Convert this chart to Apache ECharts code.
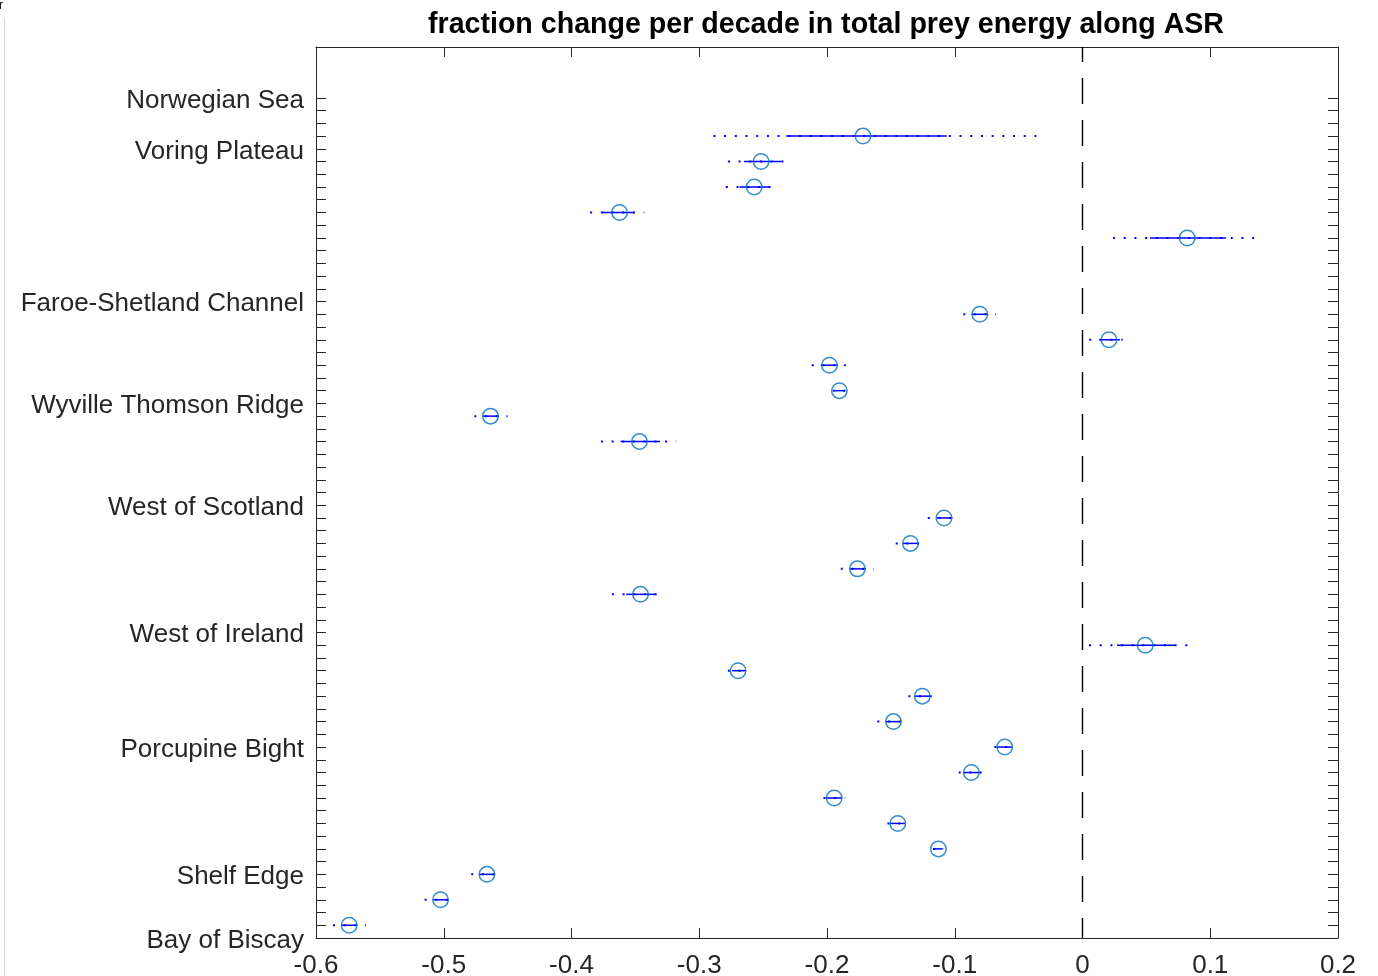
<!DOCTYPE html>
<html>
<head>
<meta charset="utf-8">
<script src="https://cdn.jsdelivr.net/npm/echarts@6/dist/echarts.min.js"></script>
<style>
  html, body { margin: 0; padding: 0; background: #fff; }
  #chart { width: 1378px; height: 976px; }
</style>
</head>
<body>
<div id="chart"></div>
<script>
// Site rows along the shelf edge, numbered from the bottom (south) upward
const rowIndex = [1, 2, 3, 4, 5, 6, 7, 8, 9, 10, 11, 12, 14, 15, 16, 17, 20, 21, 22, 23, 24, 25, 28, 29, 30, 31, 32];

// Fractional change per decade in total prey energy at each row
const trend = [
  -0.5740, -0.5025, -0.4662, -0.1128, -0.1446, -0.1944, -0.0870, -0.0609, -0.1480, -0.1254,
  -0.2696, 0.0491, -0.3460, -0.1762, -0.1347, -0.1084, -0.3468, -0.4634, -0.1903, -0.1981,
  0.0207, -0.0804, 0.0820, -0.3624, -0.2570, -0.2516, -0.1718
];

// Inner (solid) interval bounds
const innerLow = [
  -0.5802, -0.5082, -0.4722, -0.1158, -0.1506, -0.2007, -0.0935, -0.0669, -0.1540, -0.1311,
  -0.2743, 0.0270, -0.3572, -0.1819, -0.1407, -0.1141, -0.3617, -0.4693, -0.1941, -0.2049,
  0.0129, -0.0867, 0.0528, -0.3762, -0.2685, -0.2649, -0.2320
];
const innerHigh = [
  -0.5677, -0.4965, -0.4605, -0.1095, -0.1389, -0.1882, -0.0794, -0.0552, -0.1420, -0.1193,
  -0.2641, 0.0724, -0.3345, -0.1696, -0.1285, -0.1019, -0.3306, -0.4568, -0.1862, -0.1916,
  0.0293, -0.0742, 0.1123, -0.3509, -0.2451, -0.2359, -0.1063
];

// Outer (dotted) interval bounds
const outerLow = [
  -0.5867, -0.5150, -0.4785, -0.1170, -0.1527, -0.2028, -0.0969, -0.0690, -0.1606, -0.1363,
  -0.2776, 0.0051, -0.3684, -0.1892, -0.1462, -0.1211, -0.3770, -0.4761, -0.1955, -0.2119,
  0.0053, -0.0933, 0.0239, -0.3854, -0.2792, -0.2776, -0.2889
];
const outerHigh = [
  -0.5609, -0.4902, -0.4542, -0.1084, -0.1360, -0.1858, -0.0789, -0.0523, -0.1355, -0.1146,
  -0.2610, 0.0888, -0.3265, -0.1637, -0.1232, -0.0959, -0.3181, -0.4501, -0.1845, -0.1853,
  0.0315, -0.0677, 0.1404, -0.3431, -0.2372, -0.2275, -0.0354
];

// Region names and the row position each name sits at
const regionNames = ['Bay of Biscay', 'Shelf Edge', 'Porcupine Bight', 'West of Ireland', 'West of Scotland',
  'Wyville Thomson Ridge', 'Faroe-Shetland Channel', 'Voring Plateau', 'Norwegian Sea'];
const regionPos = [0.5, 3, 8, 12.5, 17.5, 21.5, 25.5, 31.5, 33.5];

// x-axis range and tick step
const xMin = -0.6, xMax = 0.2, xStep = 0.1;
// y-axis range and minor tick rows
const yMin = 0.5, yMax = 35.5;
const yTickFirst = 1, yTickLast = 33.5, yTickStep = 0.5;

const yTicks = [];
for (let v = yTickFirst; v <= yTickLast + 1e-9; v += yTickStep) yTicks.push(v);

const FONT = '"Liberation Sans", Arial, Helvetica, sans-serif';
const AXIS_COLOR = '#262626';

const chart = echarts.init(document.getElementById('chart'), null, { renderer: 'canvas' });

const xAxisBase = {
  type: 'value', min: xMin, max: xMax, interval: xStep,
  splitLine: { show: false },
  axisLine: { show: true, onZero: false, lineStyle: { color: AXIS_COLOR, width: 1 } },
  axisTick: { show: true, inside: true, length: 10, lineStyle: { color: AXIS_COLOR, width: 1 } }
};

const yAxisBase = {
  type: 'value', min: yMin, max: yMax,
  splitLine: { show: false },
  axisLine: { show: true, onZero: false, lineStyle: { color: AXIS_COLOR, width: 1 } },
  axisTick: { show: true, inside: true, length: 10, customValues: yTicks, lineStyle: { color: AXIS_COLOR, width: 1 } }
};

chart.setOption({
  animation: false,
  backgroundColor: '#ffffff',
  title: {
    text: 'fraction change per decade in total prey energy along ASR',
    left: 821, top: 6, textAlign: 'center',
    textStyle: { fontFamily: FONT, fontSize: 28.6, fontWeight: 'bold', color: '#000' }
  },
  grid: { left: 316, right: 40, top: 47, bottom: 38, containLabel: false, outerBoundsMode: 'none' },
  xAxis: [
    Object.assign({}, xAxisBase, {
      position: 'bottom',
      axisLabel: {
        show: true, margin: 15, color: AXIS_COLOR, fontFamily: FONT, fontSize: 26,
        formatter: (v) => String(Math.round(v * 10) / 10)
      }
    }),
    Object.assign({}, xAxisBase, { position: 'top', axisLabel: { show: false } })
  ],
  yAxis: [
    Object.assign({}, yAxisBase, {
      position: 'left',
      axisLabel: {
        show: true, margin: 12, color: AXIS_COLOR, fontFamily: FONT, fontSize: 26,
        customValues: regionPos,
        formatter: (v) => {
          const i = regionPos.indexOf(v);
          return i >= 0 ? '{n|' + regionNames[i] + '}' : '';
        },
        rich: {
          n: { fontFamily: FONT, fontSize: 26, color: AXIS_COLOR, padding: [5, 0, 0, 0] }
        }
      }
    }),
    Object.assign({}, yAxisBase, { position: 'right', axisLabel: { show: false } })
  ],
  series: [
    {
      // interval bars: dotted outer range with the solid inner range on top
      type: 'custom',
      xAxisIndex: 0, yAxisIndex: 0,
      z: 2,
      silent: true,
      data: rowIndex.map((r, i) => [outerLow[i], outerHigh[i], innerLow[i], innerHigh[i], r]),
      encode: { x: [0, 1, 2, 3], y: 4 },
      renderItem: (params, api) => {
        const y = api.value(4);
        const a = api.coord([api.value(0), y]);
        const b = api.coord([api.value(1), y]);
        const c = api.coord([api.value(2), y]);
        const d = api.coord([api.value(3), y]);
        return {
          type: 'group',
          children: [
            { type: 'line', shape: { x1: a[0], y1: a[1], x2: b[0], y2: b[1] },
              style: { stroke: '#0000ff', lineWidth: 2, lineDash: [2, 8.7] } },
            { type: 'line', shape: { x1: c[0], y1: c[1], x2: d[0], y2: d[1] },
              style: { stroke: '#0000ff', lineWidth: 1.5 } }
          ]
        };
      }
    },
    {
      type: 'scatter',
      xAxisIndex: 0, yAxisIndex: 0,
      z: 3,
      silent: true,
      symbol: 'circle',
      symbolSize: 15.5,
      itemStyle: { color: 'rgba(255,255,255,0)', borderColor: '#0072BD', borderWidth: 1.5 },
      data: rowIndex.map((r, i) => [trend[i], r]),
      markLine: {
        silent: true,
        symbol: ['none', 'none'],
        label: { show: false },
        lineStyle: { color: '#000', width: 1.4, type: [26, 16], dashOffset: 6 },
        data: [{ xAxis: 0 }]
      }
    }
  ],
  graphic: [
    { type: 'line', silent: true, shape: { x1: 4.5, y1: 18, x2: 4.5, y2: 976 },
      style: { stroke: '#d6d6d6', lineWidth: 1 } },
    { type: 'text', silent: true, left: -1, top: 0,
      style: { text: 'r', font: '12px ' + FONT, fill: '#000' } }
  ]
});
</script>
</body>
</html>
